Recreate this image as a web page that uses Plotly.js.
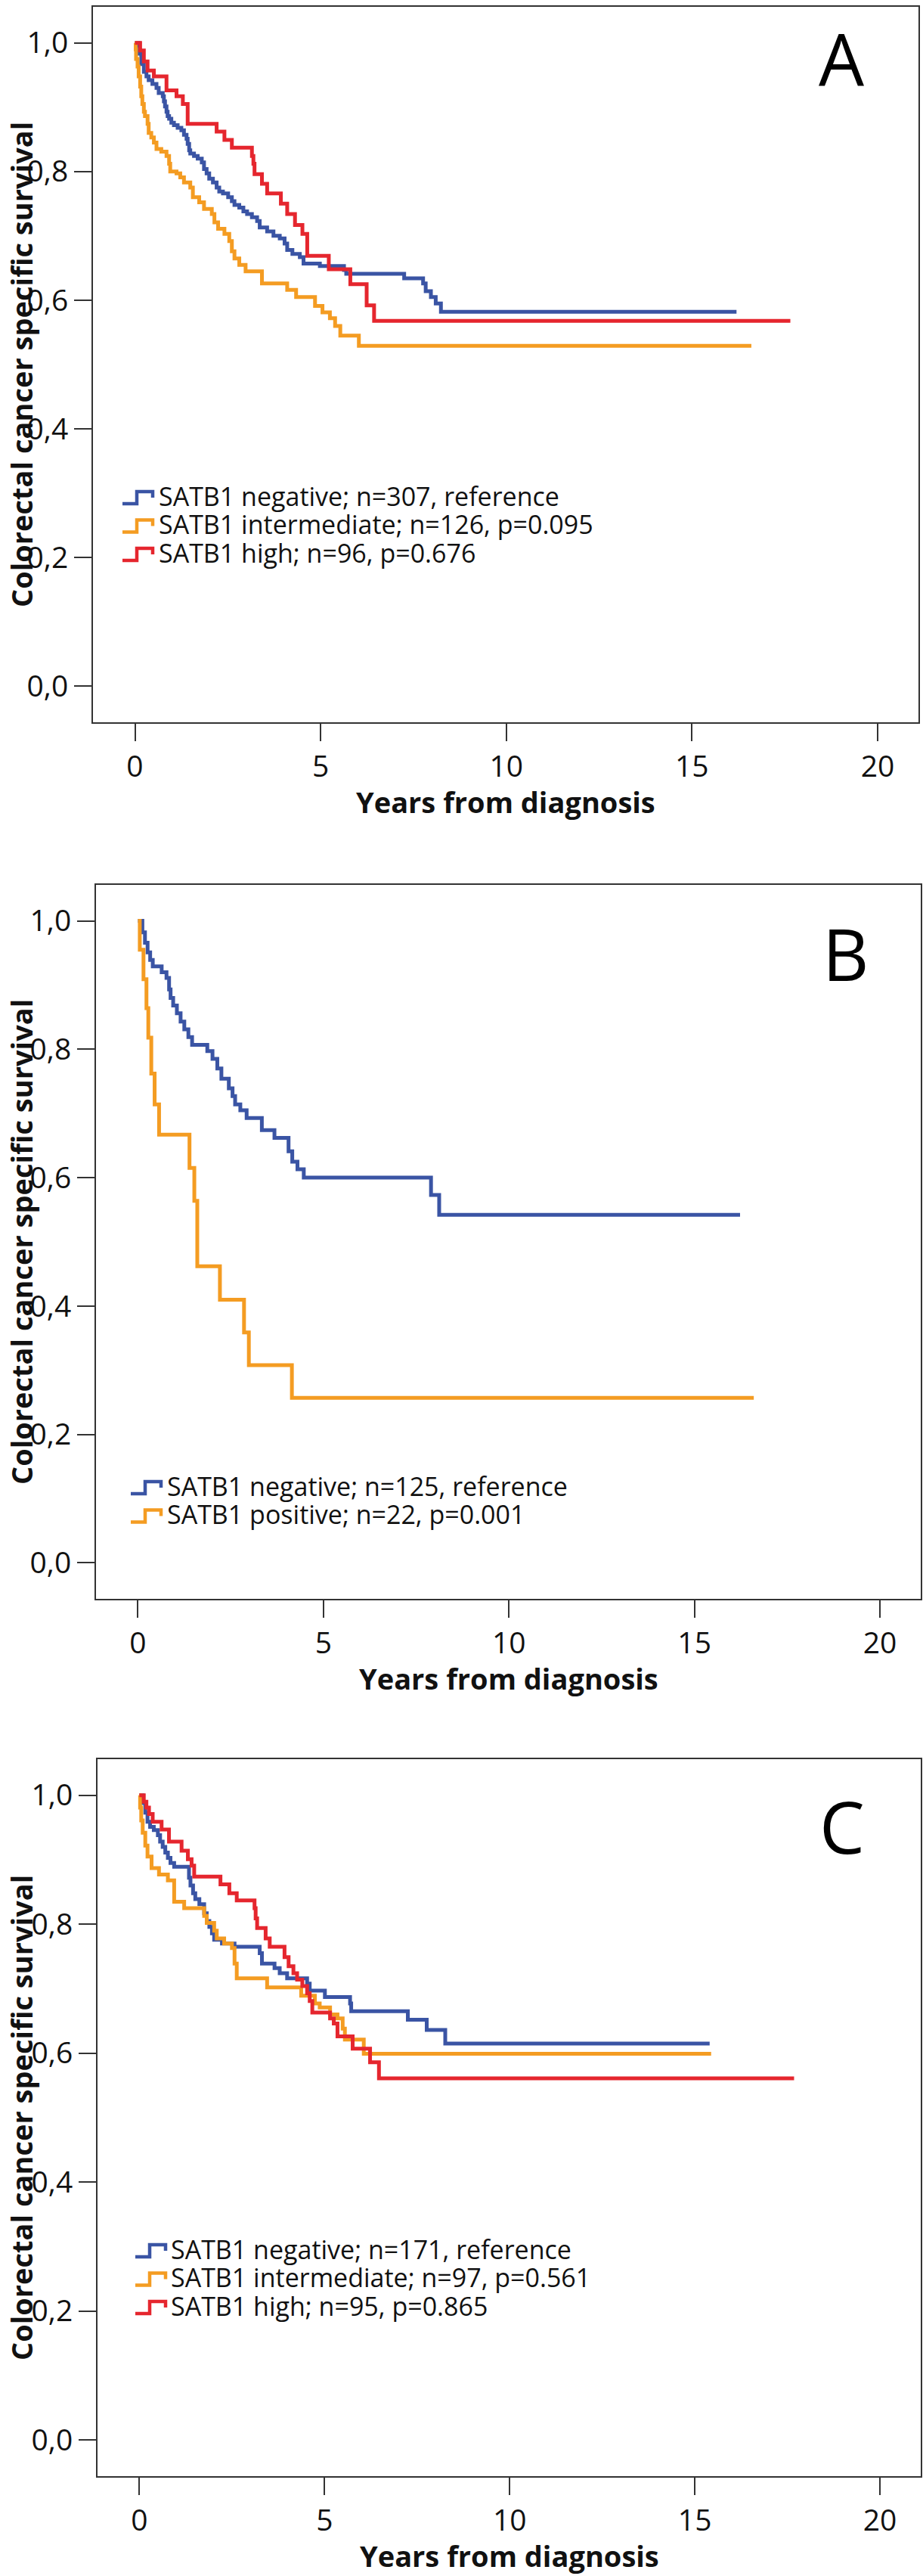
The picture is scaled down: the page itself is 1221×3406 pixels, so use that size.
<!DOCTYPE html>
<html>
<head>
<meta charset="utf-8">
<script src="https://cdn.plot.ly/plotly-3.0.1.min.js"></script>
<style>
    html, body { margin: 0; padding: 0; background: #fff; }
    #km-diagram { width: 1221px; height: 3406px; }
</style>
</head>
<body>
<div id="km-diagram"></div>
<script>
// Kaplan-Meier steps (time in years, survival fraction)
let aBlueX = [0, 0.10, 0.17, 0.24, 0.31, 0.37, 0.47, 0.58, 0.64, 0.75, 0.78, 0.81, 0.85, 0.88, 0.92, 0.98, 1.05, 1.15, 1.25, 1.32, 1.39, 1.42, 1.46, 1.49, 1.59, 1.69, 1.80, 1.86, 1.93, 2.00, 2.10, 2.20, 2.27, 2.37, 2.51, 2.61, 2.68, 2.81, 2.92, 3.02, 3.15, 3.29, 3.36, 3.56, 3.73, 3.90, 4.03, 4.10, 4.24, 4.44, 4.54, 4.98, 5.63, 5.69, 7.25, 7.76, 7.83, 7.97, 8.10, 8.24, 16.2];
let aBlueY = [1.0, 0.983, 0.967, 0.955, 0.948, 0.942, 0.936, 0.930, 0.922, 0.917, 0.909, 0.901, 0.893, 0.886, 0.882, 0.876, 0.872, 0.868, 0.864, 0.857, 0.851, 0.843, 0.833, 0.828, 0.824, 0.820, 0.814, 0.804, 0.797, 0.789, 0.783, 0.775, 0.769, 0.766, 0.760, 0.754, 0.748, 0.744, 0.738, 0.734, 0.729, 0.723, 0.713, 0.707, 0.700, 0.696, 0.688, 0.678, 0.672, 0.667, 0.657, 0.653, 0.647, 0.641, 0.634, 0.626, 0.614, 0.605, 0.595, 0.582, 0.582];
let aOrangeX = [0, 0.02, 0.03, 0.07, 0.10, 0.14, 0.17, 0.20, 0.24, 0.27, 0.34, 0.37, 0.44, 0.51, 0.58, 0.71, 0.85, 0.92, 0.95, 1.12, 1.22, 1.32, 1.49, 1.56, 1.73, 1.86, 2.07, 2.14, 2.24, 2.41, 2.54, 2.61, 2.68, 2.81, 2.98, 3.42, 4.10, 4.34, 4.85, 5.05, 5.25, 5.39, 5.53, 6.03, 16.6];
let aOrangeY = [1.0, 0.990, 0.975, 0.963, 0.948, 0.932, 0.917, 0.905, 0.893, 0.886, 0.874, 0.860, 0.853, 0.845, 0.835, 0.831, 0.824, 0.812, 0.800, 0.797, 0.791, 0.783, 0.775, 0.760, 0.752, 0.742, 0.734, 0.721, 0.711, 0.703, 0.692, 0.676, 0.665, 0.655, 0.645, 0.626, 0.616, 0.605, 0.591, 0.581, 0.572, 0.560, 0.545, 0.529, 0.529];
let aRedX = [0, 0.14, 0.24, 0.34, 0.51, 0.85, 1.12, 1.29, 1.42, 2.20, 2.41, 2.61, 3.15, 3.19, 3.22, 3.42, 3.56, 3.93, 4.10, 4.31, 4.51, 4.64, 5.22, 5.80, 6.24, 6.44, 17.65];
let aRedY = [1.0, 0.988, 0.971, 0.957, 0.948, 0.926, 0.917, 0.905, 0.874, 0.862, 0.849, 0.837, 0.824, 0.812, 0.796, 0.781, 0.766, 0.750, 0.734, 0.717, 0.703, 0.669, 0.648, 0.625, 0.592, 0.568, 0.568];

let bBlueX = [0, 0.12, 0.19, 0.26, 0.33, 0.40, 0.64, 0.77, 0.84, 0.88, 0.95, 1.05, 1.15, 1.25, 1.36, 1.46, 1.87, 2.01, 2.14, 2.25, 2.45, 2.55, 2.62, 2.76, 2.93, 3.34, 3.68, 4.06, 4.16, 4.30, 4.47, 7.90, 8.12, 16.23];
let bBlueY = [1.0, 0.982, 0.966, 0.951, 0.939, 0.929, 0.920, 0.911, 0.893, 0.880, 0.868, 0.856, 0.843, 0.831, 0.819, 0.807, 0.797, 0.785, 0.770, 0.754, 0.739, 0.727, 0.714, 0.705, 0.693, 0.674, 0.662, 0.641, 0.625, 0.613, 0.600, 0.573, 0.542, 0.542];
let bOrangeX = [0, 0.05, 0.15, 0.23, 0.28, 0.36, 0.45, 0.57, 1.39, 1.52, 1.60, 2.21, 2.86, 2.99, 4.15, 16.6];
let bOrangeY = [1.0, 0.955, 0.909, 0.864, 0.818, 0.762, 0.714, 0.667, 0.615, 0.564, 0.462, 0.410, 0.359, 0.308, 0.257, 0.257];

let cBlueX = [0, 0.09, 0.16, 0.22, 0.29, 0.39, 0.50, 0.56, 0.63, 0.70, 0.77, 0.84, 0.94, 1.34, 1.38, 1.45, 1.51, 1.62, 1.75, 1.82, 1.89, 1.96, 2.02, 2.23, 2.57, 3.25, 3.31, 3.65, 3.79, 3.99, 4.53, 4.60, 5.01, 5.69, 5.72, 7.25, 7.76, 8.26, 15.4];
let cBlueY = [1.0, 0.988, 0.973, 0.959, 0.951, 0.946, 0.938, 0.928, 0.920, 0.911, 0.903, 0.895, 0.889, 0.872, 0.860, 0.848, 0.839, 0.831, 0.817, 0.805, 0.796, 0.786, 0.776, 0.770, 0.765, 0.755, 0.739, 0.732, 0.724, 0.716, 0.708, 0.697, 0.687, 0.677, 0.665, 0.652, 0.636, 0.615, 0.615];
let cOrangeX = [0, 0.02, 0.05, 0.09, 0.16, 0.22, 0.33, 0.53, 0.77, 0.94, 1.21, 1.75, 1.82, 2.02, 2.09, 2.29, 2.50, 2.57, 2.63, 3.45, 4.37, 4.74, 4.87, 5.15, 5.35, 5.49, 5.55, 6.06, 15.44];
let cOrangeY = [1.0, 0.981, 0.961, 0.942, 0.922, 0.905, 0.887, 0.877, 0.868, 0.835, 0.825, 0.813, 0.802, 0.790, 0.778, 0.770, 0.763, 0.739, 0.716, 0.702, 0.689, 0.677, 0.671, 0.660, 0.654, 0.638, 0.621, 0.599, 0.599];
let cRedX = [0, 0.12, 0.19, 0.26, 0.36, 0.60, 0.80, 1.14, 1.31, 1.41, 1.48, 2.19, 2.43, 2.63, 3.11, 3.14, 3.18, 3.41, 3.52, 3.92, 4.03, 4.16, 4.26, 4.40, 4.53, 4.60, 4.67, 5.15, 5.25, 5.35, 5.76, 6.23, 6.47, 17.68];
let cRedY = [1.0, 0.990, 0.981, 0.971, 0.959, 0.947, 0.928, 0.914, 0.901, 0.891, 0.874, 0.862, 0.848, 0.837, 0.825, 0.809, 0.794, 0.778, 0.765, 0.749, 0.735, 0.724, 0.714, 0.704, 0.693, 0.681, 0.663, 0.654, 0.646, 0.626, 0.607, 0.586, 0.561, 0.561];

// Legend labels and panel letters
let aNames = ['SATB1 negative; n=307, reference', 'SATB1 intermediate; n=126, p=0.095', 'SATB1 high; n=96, p=0.676'];
let bNames = ['SATB1 negative; n=125, reference', 'SATB1 positive; n=22, p=0.001'];
let cNames = ['SATB1 negative; n=171, reference', 'SATB1 intermediate; n=97, p=0.561', 'SATB1 high; n=95, p=0.865'];
let panelLetters = ['A', 'B', 'C'];

// Axis ticks and titles
let xTicks = [0, 5, 10, 15, 20];
let yTickVals = [0, 0.2, 0.4, 0.6, 0.8, 1.0];
let yTickText = ['0,0', '0,2', '0,4', '0,6', '0,8', '1,0'];
let xTitle = 'Years from diagnosis';
let yTitle = 'Colorectal cancer specific survival';

const COLOR_BLUE = '#3a54a4';
const COLOR_ORANGE = '#f49c22';
const COLOR_RED = '#e5262e';
const FONT = 'Open Sans, Noto Sans, sans-serif';
const PAGE_W = 1221;
const PAGE_H = 3406;

// Pixel frame of every panel on the page: left, right, top, bottom
let frames = [
    [123, 1215, 9, 955],
    [127, 1218, 1170, 2114],
    [129, 1218, 2326, 3274]
];
// Legend placement: icon left, text left, first row centre, row step (px)
let legendPlaces = [
    [162, 209, 659, 37.5],
    [173, 220, 1968, 37.5],
    [179, 225, 2977, 37.5]
];
let letterPlaces = [[1113, 77], [1118, 1260], [1114, 2414]];

function px(v) { return v / PAGE_W; }
function py(v) { return 1 - v / PAGE_H; }

function stepTrace(x, y, name, color, n) {
    let suffix = n === 1 ? '' : String(n);
    return {
        x: x,
        y: y,
        name: name,
        type: 'scatter',
        mode: 'lines',
        line: {
            color: color,
            width: 5,
            shape: 'hv'
        },
        xaxis: 'x' + suffix,
        yaxis: 'y' + suffix,
        showlegend: false,
        hoverinfo: 'skip'
    }
}

function xAxis(frame, anchor) {
    return {
        domain: [px(frame[0]), px(frame[1])],
        anchor: anchor,
        range: [-1.13, 21.1],
        tickvals: xTicks,
        ticks: 'outside',
        ticklen: 23,
        tickwidth: 2,
        tickcolor: '#333',
        showline: true,
        mirror: true,
        linecolor: '#333',
        linewidth: 2,
        showgrid: false,
        zeroline: false,
        tickfont: { family: FONT, size: 39, color: '#111' },
        fixedrange: true
    }
}

function yAxis(frame, anchor) {
    return {
        domain: [py(frame[3]), py(frame[2])],
        anchor: anchor,
        range: [-0.056, 1.056],
        tickvals: yTickVals,
        ticktext: yTickText,
        ticks: 'outside',
        ticklen: 23,
        tickwidth: 2,
        tickcolor: '#333',
        showline: true,
        mirror: true,
        linecolor: '#333',
        linewidth: 2,
        showgrid: false,
        zeroline: false,
        tickfont: { family: FONT, size: 39, color: '#111' },
        fixedrange: true
    }
}

let panels = [
    { names: aNames, colors: [COLOR_BLUE, COLOR_ORANGE, COLOR_RED], xs: [aBlueX, aOrangeX, aRedX], ys: [aBlueY, aOrangeY, aRedY] },
    { names: bNames, colors: [COLOR_BLUE, COLOR_ORANGE], xs: [bBlueX, bOrangeX], ys: [bBlueY, bOrangeY] },
    { names: cNames, colors: [COLOR_BLUE, COLOR_ORANGE, COLOR_RED], xs: [cBlueX, cOrangeX, cRedX], ys: [cBlueY, cOrangeY, cRedY] }
];

let data = [];
let annotations = [];
let shapes = [];
let layout = {
    width: PAGE_W,
    height: PAGE_H,
    paper_bgcolor: '#fff',
    plot_bgcolor: '#fff',
    showlegend: false,
    margin: { l: 0, r: 0, t: 0, b: 0 }
}

for (let p = 0; p < panels.length; p++) {
    let n = p + 1;
    let suffix = n === 1 ? '' : String(n);
    let frame = frames[p];
    let panel = panels[p];

    layout['xaxis' + suffix] = xAxis(frame, 'y' + suffix);
    layout['yaxis' + suffix] = yAxis(frame, 'x' + suffix);

    for (let i = 0; i < panel.names.length; i++) {
        data.push(stepTrace(panel.xs[i], panel.ys[i], panel.names[i], panel.colors[i], n));

        // Legend row: small step icon plus label (rows are tight, so the
        // text box is cut to the row height from its empty top margin)
        let place = legendPlaces[p];
        let rowY = place[2] + i * place[3];
        shapes.push({
            type: 'path',
            xref: 'paper',
            yref: 'paper',
            xsizemode: 'pixel',
            ysizemode: 'pixel',
            xanchor: px(place[0]),
            yanchor: py(rowY),
            path: 'M0,-7 H19 V9 H40 V1',
            line: { color: panel.colors[i], width: 4.5 }
        })
        annotations.push({
            text: panel.names[i],
            showarrow: false,
            xref: 'paper',
            yref: 'paper',
            x: px(place[1]),
            y: py(rowY + 1.4),
            xanchor: 'left',
            yanchor: 'middle',
            height: 37,
            valign: 'bottom',
            borderpad: 0,
            font: { family: FONT, size: 34, color: '#111' }
        })
    }

    // Axis titles
    annotations.push({
        text: xTitle,
        showarrow: false,
        xref: 'paper',
        yref: 'paper',
        x: px((frame[0] + frame[1]) / 2),
        y: py(frame[3] + 105),
        xanchor: 'center',
        yanchor: 'middle',
        borderpad: 0,
        font: { family: FONT, size: 38, color: '#111', weight: 'bold' }
    })
    annotations.push({
        text: yTitle,
        showarrow: false,
        textangle: -90,
        xref: 'paper',
        yref: 'paper',
        x: px(1),
        y: py((frame[2] + frame[3]) / 2),
        xanchor: 'left',
        yanchor: 'middle',
        borderpad: 0,
        font: { family: FONT, size: 38, color: '#111', weight: 'bold' }
    })

    // Panel letter
    annotations.push({
        text: panelLetters[p],
        showarrow: false,
        xref: 'paper',
        yref: 'paper',
        x: px(letterPlaces[p][0]),
        y: py(letterPlaces[p][1]),
        xanchor: 'center',
        yanchor: 'middle',
        font: { family: FONT, size: 95, color: '#000' }
    })
}

layout.annotations = annotations;
layout.shapes = shapes;

let config = {
    displayModeBar: false,
    staticPlot: true
}

Plotly.newPlot(document.getElementById('km-diagram'), data, layout, config);
</script>
</body>
</html>
